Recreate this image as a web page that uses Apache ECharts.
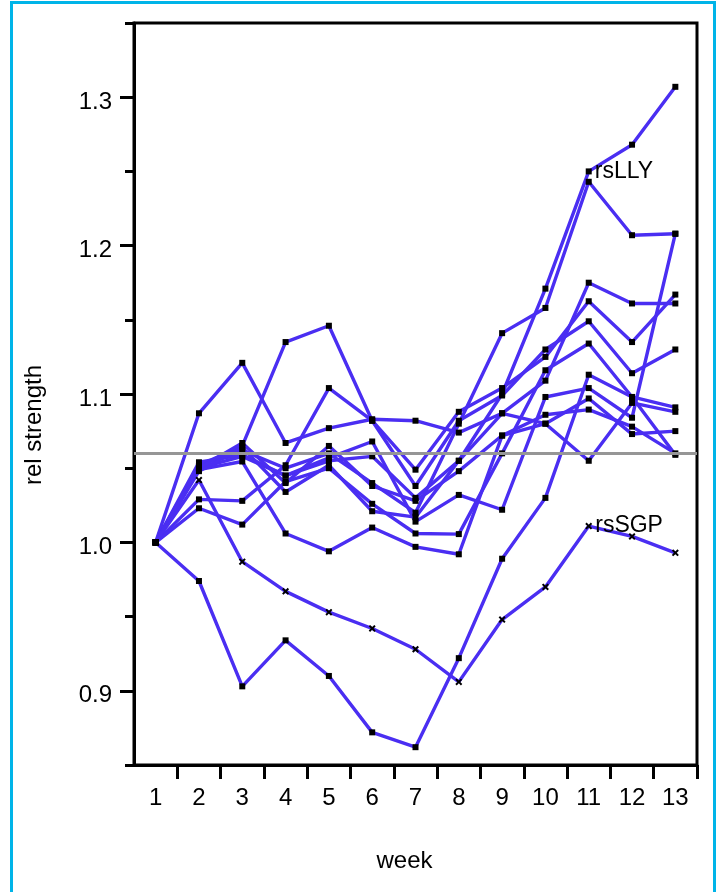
<!DOCTYPE html>
<html><head><meta charset="utf-8">
<script src="https://cdn.jsdelivr.net/npm/echarts@6/dist/echarts.min.js"></script>
<style>html,body{margin:0;padding:0;background:#fff}#c{width:722px;height:892px}</style>
</head><body><div id="c"></div>
<script>
const weeks = [1,2,3,4,5,6,7,8,9,10,11,12,13];
const weekTicks = [1.5,2.5,3.5,4.5,5.5,6.5,7.5,8.5,9.5,10.5,11.5,12.5,13.5];
const yLabels = [0.9,1.0,1.1,1.2,1.3];
const refLevel = 1.06;

const rsLLY = [1.0,1.050,1.058,1.045,1.055,1.058,1.030,1.055,1.100,1.171,1.250,1.268,1.307];
const rsD   = [1.0,1.052,1.062,1.050,1.060,1.040,1.020,1.080,1.141,1.158,1.243,1.207,1.208];
const rsA   = [1.0,1.087,1.121,1.067,1.077,1.083,1.082,1.074,1.087,1.109,1.175,1.161,1.161];
const rsB   = [1.0,1.052,1.065,1.135,1.146,1.082,1.049,1.088,1.104,1.125,1.1625,1.135,1.167];
const rsC   = [1.0,1.029,1.028,1.052,1.104,1.082,1.038,1.082,1.099,1.130,1.149,1.114,1.130];
const rsE   = [1.0,1.054,1.059,1.045,1.057,1.068,1.014,1.032,1.022,1.098,1.104,1.084,1.208];
const rsF   = [1.0,1.023,1.012,1.041,1.050,1.026,1.006,1.0056,1.060,1.116,1.134,1.098,1.091];
const rsG   = [1.0,1.049,1.0545,1.006,0.994,1.010,0.997,0.992,1.072,1.086,1.0895,1.078,1.060];
const rsH   = [1.0,1.048,1.064,1.034,1.052,1.021,1.017,1.055,1.087,1.080,1.055,1.094,1.088];
const rsI   = [1.0,1.050,1.067,1.040,1.065,1.038,1.028,1.048,1.072,1.080,1.097,1.073,1.075];
const rsLow = [1.0,0.974,0.903,0.934,0.910,0.872,0.862,0.922,0.989,1.030,1.113,1.098,1.059];
const rsSGP = [1.0,1.042,0.987,0.967,0.953,0.942,0.928,0.906,0.948,0.970,1.011,1.004,0.993];

const squareSeries = {rsLLY, rsD, rsA, rsB, rsC, rsE, rsF, rsG, rsH, rsI, rsLow};
const crossSeries = {rsSGP};
const labelled = {rsLLY: 10, rsSGP: 10};

const LINE = '#4a2ef2';
const FONT = '"Liberation Sans", Arial, Helvetica, sans-serif';
const CROSS = 'path://M0,2L2,0L5,3L8,0L10,2L7,5L10,8L8,10L5,7L2,10L0,8L3,5Z';

function mk(name, vals, symbol, size) {
  return {
    name, type: 'line', z: 3,
    data: vals.map((v, i) => {
      const item = {value: [weeks[i], v]};
      if (labelled[name] === i) {
        item.label = {show: true, position: 'right', distance: 3, formatter: name,
          color: '#000', fontSize: 23, fontFamily: FONT};
      }
      return item;
    }),
    symbol, symbolSize: size, showAllSymbol: true,
    itemStyle: {color: '#000'},
    lineStyle: {color: LINE, width: 3.4},
    animation: false
  };
}

const series = [];
series.push({
  type: 'line', z: 1, data: [], silent: true, animation: false,
  markLine: {silent: true, symbol: 'none', animation: false,
    label: {show: false},
    lineStyle: {color: '#969696', width: 3, type: 'solid'},
    data: [{yAxis: refLevel}]}
});
for (const k in squareSeries) series.push(mk(k, squareSeries[k], 'rect', 6));
for (const k in crossSeries) series.push(mk(k, crossSeries[k], CROSS, 7));

const chart = echarts.init(document.getElementById('c'), null, {renderer: 'canvas'});
chart.setOption({
  backgroundColor: '#fff',
  animation: false,
  graphic: [{type: 'rect', shape: {x: 11.5, y: 2.5, width: 703, height: 1000},
    style: {fill: 'none', stroke: '#00b4e8', lineWidth: 3}, z: 100}],
  grid: {left: 134, right: 25, top: 23, bottom: 127, show: true,
    borderColor: '#000', borderWidth: 3, backgroundColor: 'transparent'},
  xAxis: {
    type: 'value', min: 0.5, max: 13.5,
    name: 'week', nameLocation: 'middle', nameGap: 84,
    nameTextStyle: {fontSize: 24, fontFamily: FONT, color: '#000', padding: [0, 22, 0, 0]},
    axisLine: {lineStyle: {color: '#000', width: 3}},
    axisTick: {customValues: weekTicks, length: 14, lineStyle: {color: '#000', width: 3}},
    axisLabel: {customValues: weeks, margin: 21, fontSize: 24, fontFamily: FONT, color: '#000'},
    splitLine: {show: false}
  },
  yAxis: [{
    type: 'value', min: 0.85, max: 1.35, interval: 0.05,
    name: 'rel strength', nameLocation: 'middle', nameGap: 88, nameRotate: 90,
    nameTextStyle: {fontSize: 24, fontFamily: FONT, color: '#000', padding: [0, 62, 0, 0]},
    axisLine: {lineStyle: {color: '#000', width: 3}},
    axisTick: {length: 9, lineStyle: {color: '#000', width: 3}},
    axisLabel: {customValues: yLabels, formatter: v => v.toFixed(1), margin: 22,
      fontSize: 24, fontFamily: FONT, color: '#000', verticalAlign: 'top', lineHeight: 10},
    splitLine: {show: false}
  }, {
    type: 'value', min: 0.85, max: 1.35, position: 'left', offset: 0,
    axisLine: {show: false},
    axisTick: {customValues: yLabels, length: 14, lineStyle: {color: '#000', width: 3}},
    axisLabel: {show: false},
    splitLine: {show: false}
  }],
  series
});
</script></body></html>
